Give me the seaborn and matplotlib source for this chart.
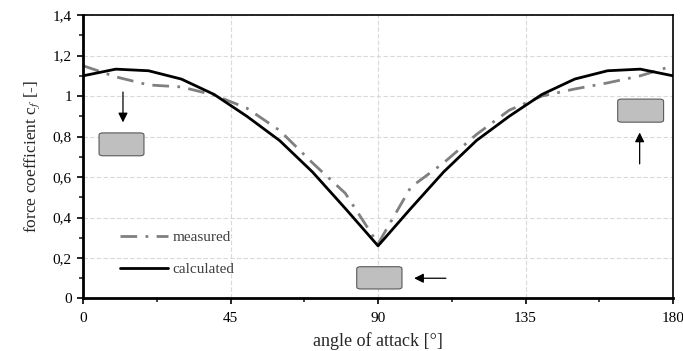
import numpy as np
import pandas as pd
import matplotlib.pyplot as plt
import seaborn as sns
from matplotlib.patches import FancyBboxPatch
from matplotlib.ticker import MultipleLocator, FuncFormatter

# angle of attack in degrees
angle = [0, 10, 20, 30, 40, 50, 60, 70, 80, 90, 100, 110, 120, 130, 140, 150, 160, 170, 180]
# force coefficient values
measured = [1.15, 1.095, 1.055, 1.045, 1.005, 0.94, 0.83, 0.67, 0.52, 0.27,
            0.55, 0.67, 0.81, 0.93, 1.0, 1.035, 1.065, 1.10, 1.15]
calculated = [1.10, 1.133, 1.125, 1.084, 1.008, 0.90, 0.78, 0.625, 0.445, 0.26,
              0.445, 0.625, 0.78, 0.90, 1.008, 1.084, 1.125, 1.133, 1.10]

df = pd.DataFrame({"angle": angle * 2,
                   "cf": measured + calculated,
                   "series": ["measured"] * len(angle) + ["calculated"] * len(angle)})

sns.set_style("white")
plt.rcParams["font.family"] = ["Liberation Serif", "DejaVu Serif"]
plt.rcParams["mathtext.fontset"] = "stix"

fig = plt.figure(figsize=(6.83, 3.51), dpi=100)
ax = fig.add_axes([0.1215, 0.1496, 0.864, 0.8074])

sns.lineplot(data=df, x="angle", y="cf", hue="series", style="series",
             palette={"measured": "#808080", "calculated": "black"},
             dashes={"measured": (6, 3, 1, 3), "calculated": ""},
             linewidth=2, ax=ax)

ax.set_xlim(0, 180)
ax.set_ylim(0, 1.4)
ax.xaxis.set_major_locator(MultipleLocator(45))
ax.xaxis.set_minor_locator(MultipleLocator(22.5))
ax.yaxis.set_major_locator(MultipleLocator(0.2))
ax.yaxis.set_minor_locator(MultipleLocator(0.1))
ax.yaxis.set_major_formatter(FuncFormatter(lambda v, p: ("%g" % round(v, 1)).replace(".", ",")))
ax.grid(True, which="major", color="#d9d9d9", linestyle=(0, (4, 2)), linewidth=0.8)
ax.set_axisbelow(True)

for side in ["left", "bottom"]:
    ax.spines[side].set_linewidth(2)
for side in ["top", "right"]:
    ax.spines[side].set_linewidth(1.2)
for s in ax.spines.values():
    s.set_color("black")

ax.tick_params(axis="both", which="major", direction="out", length=4, width=1.2,
               labelsize=11, colors="black")
ax.tick_params(axis="both", which="minor", direction="out", length=3, width=1.2)
ax.tick_params(axis="x", pad=6)
ax.tick_params(axis="y", pad=4)
ax.tick_params(left=True, bottom=True, which="both")

ax.set_xlabel("angle of attack [°]", fontsize=13, labelpad=5)
ax.set_ylabel("force coefficient c$_\\mathit{f}$ [-]", fontsize=12.5, labelpad=8)

# legend, no frame
handles, labels = ax.get_legend_handles_labels()
leg = ax.legend(handles, labels, loc="lower left", bbox_to_anchor=(0.04, 0.03),
                frameon=False, fontsize=11, handlelength=3.1, labelspacing=1.2,
                handletextpad=0.3)
for t in leg.get_texts():
    t.set_color("#404040")

# grey boxes with arrows
boxes = [(4.9, 0.705, 13.7, 0.113), (83.5, 0.047, 13.8, 0.11), (163.1, 0.871, 14.0, 0.114)]
for bx, by, bw, bh in boxes:
    ax.add_patch(FancyBboxPatch((bx, by), bw, bh,
                                boxstyle="round,pad=0,rounding_size=1.2",
                                mutation_aspect=0.009,
                                facecolor="#bfbfbf", edgecolor="#595959", linewidth=0.8,
                                zorder=3))

arrows = [((12.2, 1.02), (12.2, 0.87)), ((110.7, 0.10), (101.0, 0.10)), ((169.8, 0.665), (169.8, 0.82))]
for start, end in arrows:
    ax.annotate("", xy=end, xytext=start,
                arrowprops=dict(arrowstyle="-|>", color="black", lw=0.9,
                                mutation_scale=14, shrinkA=0, shrinkB=0))

fig.savefig("out.png", dpi=100)
